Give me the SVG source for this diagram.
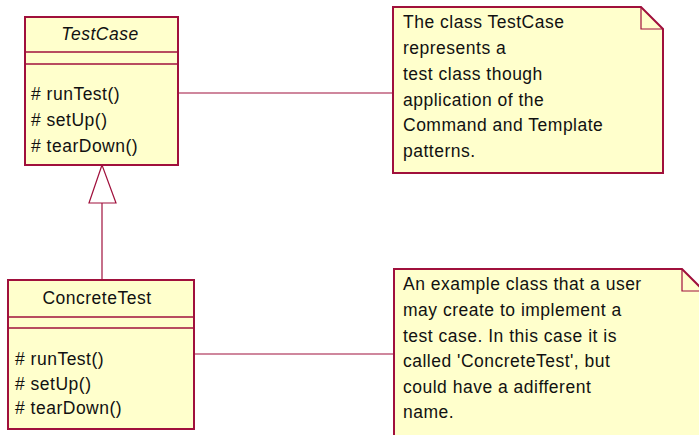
<svg xmlns="http://www.w3.org/2000/svg" width="699" height="435" viewBox="0 0 699 435">
  <style>
    .box { fill: #ffffcc; stroke: #a0103c; stroke-width: 2; }
    .sep { stroke: #a0103c; stroke-width: 1.3; }
    .line { stroke: #a0103c; stroke-width: 1.2; fill: none; }
    text { font-family: "Liberation Sans", Arial, sans-serif; font-size: 17.5px; letter-spacing: 0.5px; fill: #111; }
    .title { text-anchor: middle; }
    .abstract { font-style: italic; }
  </style>

  <!-- connectors -->
  <g id="connectors">
    <line class="line" x1="178" y1="93" x2="393" y2="93"/>
    <line class="line" x1="194" y1="354" x2="394" y2="354"/>
    <line class="line" x1="102" y1="203" x2="102" y2="280"/>
    <polygon class="line" points="102,165 89,203 116,203" style="fill:#ffffff"/>
  </g>

  <!-- abstract base class -->
  <g id="TestCase">
    <rect class="box" x="25" y="17" width="153" height="148"/>
    <line class="sep" x1="25" y1="52" x2="178" y2="52"/>
    <line class="sep" x1="25" y1="64" x2="178" y2="64"/>
    <text class="title abstract" x="100" y="40">TestCase</text>
    <text x="31" y="100"># runTest()</text>
    <text x="31" y="126"># setUp()</text>
    <text x="31" y="152"># tearDown()</text>
  </g>

  <!-- concrete subclass -->
  <g id="ConcreteTest">
    <rect class="box" x="8" y="280" width="186" height="149"/>
    <line class="sep" x1="8" y1="317" x2="194" y2="317"/>
    <line class="sep" x1="8" y1="328" x2="194" y2="328"/>
    <text class="title" x="97" y="304">ConcreteTest</text>
    <text x="15" y="365"># runTest()</text>
    <text x="15" y="390"># setUp()</text>
    <text x="15" y="414"># tearDown()</text>
  </g>

  <!-- note on TestCase -->
  <g id="note1">
    <path class="box" d="M393,7 H641 L663,29 V173 H393 Z"/>
    <path class="line" d="M641,7 V29 H663"/>
    <text x="403" y="28">The class TestCase</text>
    <text x="403" y="54">represents a</text>
    <text x="403" y="80">test class though</text>
    <text x="403" y="106">application of the</text>
    <text x="403" y="131">Command and Template</text>
    <text x="403" y="157">patterns.</text>
  </g>

  <!-- note on ConcreteTest -->
  <g id="note2">
    <path class="box" d="M394,269 H682 L704,291 V445 H394 Z"/>
    <path class="line" d="M682,269 V291 H704"/>
    <text x="403" y="290">An example class that a user</text>
    <text x="403" y="316">may create to implement a</text>
    <text x="403" y="342">test case. In this case it is</text>
    <text x="403" y="367">called 'ConcreteTest', but</text>
    <text x="403" y="393">could have a adifferent</text>
    <text x="403" y="418">name.</text>
  </g>
</svg>
